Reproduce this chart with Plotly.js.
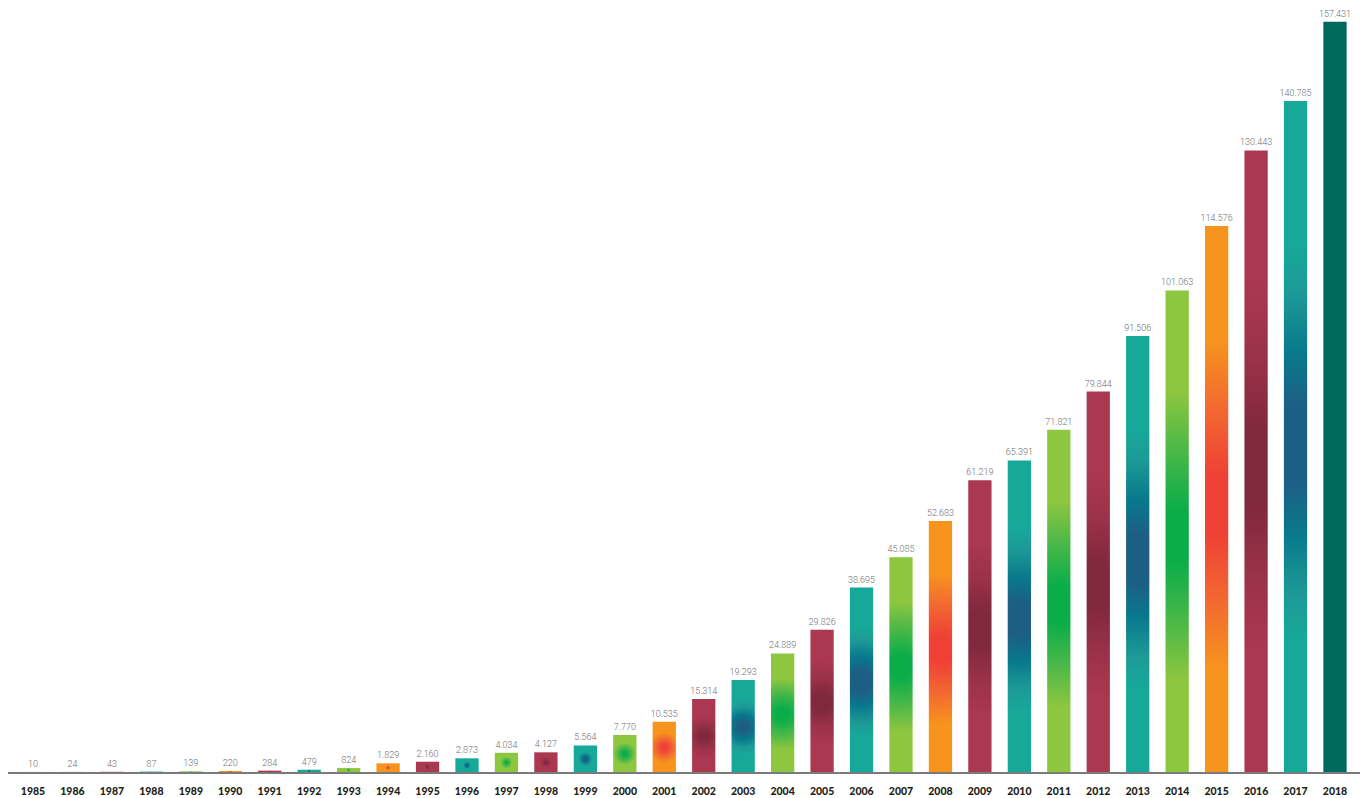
<!DOCTYPE html>
<html>
<head>
<meta charset="utf-8">
<script src="https://cdn.plot.ly/plotly-3.0.1.min.js"></script>
<style>
  html, body { margin: 0; padding: 0; background: #ffffff; }
  #chart { width: 1360px; height: 798px; }
</style>
</head>
<body>
<div id="chart"></div>
<script>
// ---- data ----
const years = ['1985','1986','1987','1988','1989','1990','1991','1992','1993','1994','1995','1996',
  '1997','1998','1999','2000','2001','2002','2003','2004','2005','2006','2007','2008','2009','2010',
  '2011','2012','2013','2014','2015','2016','2017','2018'];
const values = [10, 24, 43, 87, 139, 220, 284, 479, 824, 1829, 2160, 2873,
  4034, 4127, 5564, 7770, 10535, 15314, 19293, 24889, 29826, 38695, 45085, 52683, 61219, 65391,
  71821, 79844, 91506, 101063, 114576, 130443, 140785, 157431];
// colour family of each bar
const families = ['teal','green','crimson','teal','green','orange','crimson','teal','green','orange','crimson','teal',
  'green','crimson','teal','green','orange','crimson','teal','green','crimson','teal','green','orange','crimson','teal',
  'green','crimson','teal','green','orange','crimson','teal','dark'];

// ---- styles ----
const palette = {
  crimson: [[0, '#80283c'], [0.18, '#80283c'], [0.6, '#9b3249'], [1, '#aa3850']],
  teal:    [[0, '#1d5e84'], [0.18, '#1d5e84'], [0.45, '#08798c'], [0.75, '#1d9a97'], [1, '#16a99a']],
  green:   [[0, '#0aad4a'], [0.18, '#0aad4a'], [0.6, '#4cb848'], [1, '#8dc63f']],
  orange:  [[0, '#ef4136'], [0.18, '#ef4136'], [0.6, '#f26a30'], [1, '#f7941d']],
  dark:    [[0, '#00695e'], [1, '#00695e']]
};
const edgeColors = families.map(f => palette[f][palette[f].length - 1][1]);

const trace = {
  type: 'bar',
  x: years,
  y: values,
  marker: { color: edgeColors, line: { width: 0 } },
  texttemplate: '%{y:,}',
  textposition: 'outside',
  constraintext: 'none',
  cliponaxis: false,
  textfont: { family: 'Roboto, Lato, sans-serif', size: 9, color: '#6d6e71', weight: 300 },
  hoverinfo: 'none'
};

const layout = {
  width: 1360,
  height: 798,
  margin: { l: 8, r: 0, t: 0, b: 26, pad: 0 },
  paper_bgcolor: '#ffffff',
  plot_bgcolor: '#ffffff',
  separators: ',.',
  bargap: 0.41,
  showlegend: false,
  xaxis: {
    type: 'category',
    range: [-0.634, 33.634],
    showline: true,
    linecolor: '#7a7a7a',
    linewidth: 1.5,
    ticks: '',
    showgrid: false,
    zeroline: false,
    ticklabelstandoff: 9,
    tickfont: { family: 'Lato, "Open Sans", sans-serif', size: 10.5, color: '#231f20', weight: 900 },
    fixedrange: true
  },
  yaxis: {
    range: [0, 162000],
    visible: false,
    showgrid: false,
    zeroline: false,
    fixedrange: true
  }
};

Plotly.newPlot('chart', [trace], layout, { staticPlot: true, displayModeBar: false }).then(gd => {
  const svgNS = 'http://www.w3.org/2000/svg';
  const defs = gd.querySelector('svg.main-svg defs');
  const paths = gd.querySelectorAll('.barlayer .trace .point path');
  paths.forEach((p, i) => {
    const fam = families[i];
    if (fam === 'dark') return;
    const bb = p.getBBox();
    if (bb.height <= 0) return;
    const g = document.createElementNS(svgNS, 'radialGradient');
    const id = 'bargrad' + i;
    g.setAttribute('id', id);
    g.setAttribute('gradientUnits', 'userSpaceOnUse');
    g.setAttribute('cx', bb.x + bb.width / 2);
    g.setAttribute('cy', bb.y + bb.height * 0.51);
    g.setAttribute('r', Math.max(bb.height * 0.3, 2));
    palette[fam].forEach(([off, col]) => {
      const s = document.createElementNS(svgNS, 'stop');
      s.setAttribute('offset', off);
      s.setAttribute('stop-color', col);
      g.appendChild(s);
    });
    defs.appendChild(g);
    p.style.fill = 'url(#' + id + ')';
  });
});
</script>
</body>
</html>
